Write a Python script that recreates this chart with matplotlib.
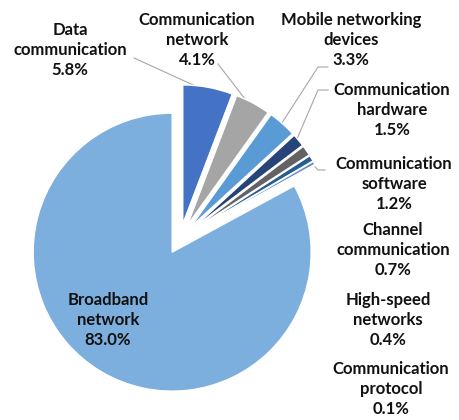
import numpy as np
import matplotlib
matplotlib.use("Agg")
import matplotlib.pyplot as plt

categories = ["Data\ncommunication", "Communication\nnetwork", "Mobile networking\ndevices",
              "Communication\nhardware", "Communication\nsoftware", "Channel\ncommunication",
              "High-speed\nnetworks", "Communication\nprotocol", "Broadband\nnetwork"]
values = [5.8, 4.1, 3.3, 1.5, 1.2, 0.7, 0.4, 0.1, 83.0]
colors = ["#4472C4", "#A5A5A5", "#5B9BD5", "#264478", "#636363", "#255E91",
          "#698ED0", "#B7B7B7", "#7CAFDD"]

W, H = 460, 420
CX, CY, R = 180, 239, 139  # pixel geometry of pie (top-origin)

fig = plt.figure(figsize=(W / 100, H / 100), dpi=100)
ax = fig.add_axes([0, 0, 1, 1])
ax.set_aspect("equal")
ax.axis("off")

def p2d(px, py):
    return ((px - CX) / R, (CY - py) / R)

wedges, _ = ax.pie(values, colors=colors, startangle=90, counterclock=False,
                   explode=[0.11] * len(values), radius=1, center=(0, 0),
                   wedgeprops=dict(edgecolor="white", linewidth=1.0))
ax.set_xlim(-CX / R, (W - CX) / R)
ax.set_ylim(-(H - CY) / R, CY / R)

fontkw = dict(family=["Lato", "DejaVu Sans"], fontweight="bold", fontsize=12,
              color="#111111", ha="center", va="center", linespacing=1.33)

label_pos = [(70, 50), (197, 40), (351, 40), (392, 110), (394, 184),
             (393, 250), (388, 320), (391, 389), (108, 320)]

for name, v, (px, py) in zip(categories, values, label_pos):
    x, y = p2d(px, py)
    ax.text(x, y, f"{name}\n{v:.1f}%", **fontkw)

# leader lines
leaders = {0: [(134, 58)], 1: [(218, 64)], 2: [(328, 67), (318, 67)],
           3: [(328, 90), (318, 90)], 4: [(325, 170), (318, 170)]}
for i, pts in leaders.items():
    w = wedges[i]
    th = np.deg2rad((w.theta1 + w.theta2) / 2)
    ex = w.center[0] + 0.97 * w.r * np.cos(th)
    ey = w.center[1] + 0.97 * w.r * np.sin(th)
    xs = [p2d(*p)[0] for p in pts] + [ex]
    ys = [p2d(*p)[1] for p in pts] + [ey]
    ax.plot(xs, ys, color="#A6A6A6", lw=0.8, zorder=0.5)

fig.savefig("out.png", dpi=100)
